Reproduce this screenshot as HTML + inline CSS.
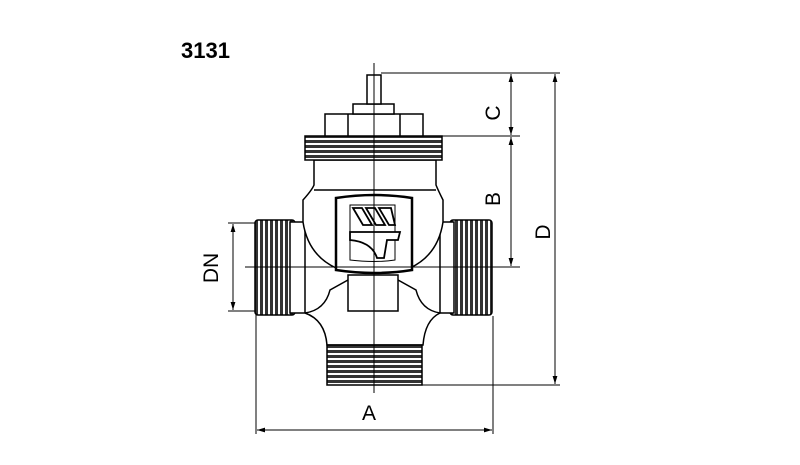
<!DOCTYPE html>
<html><head><meta charset="utf-8"><style>
html,body{margin:0;padding:0;background:#fff;width:800px;height:465px;overflow:hidden}
</style></head><body>
<svg width="800" height="465" viewBox="0 0 800 465" xmlns="http://www.w3.org/2000/svg" font-family="Liberation Sans, sans-serif">
<defs>
<marker id="ar" viewBox="0 0 10 10" refX="10" refY="5" markerWidth="8" markerHeight="8" orient="auto-start-reverse" markerUnits="userSpaceOnUse"><path d="M0,2 L10,5 L0,8 z" fill="#000"/></marker>
<pattern id="thv" width="4" height="5" patternUnits="userSpaceOnUse"><rect width="4" height="5" fill="#fff"/><rect x="0" y="0" width="4" height="3" fill="#333"/></pattern>
<pattern id="thh" width="5" height="4" patternUnits="userSpaceOnUse"><rect width="5" height="4" fill="#fff"/><rect x="0" y="0" width="3" height="4" fill="#333"/></pattern>
</defs>
<text x="181" y="58" font-size="22" font-weight="bold">3131</text>
<g stroke="#000" stroke-width="1.5" fill="#fff">
<rect x="255" y="220" width="40" height="95" rx="3" fill="url(#thh)"/>
<rect x="450" y="220" width="42" height="95" rx="3" fill="url(#thh)"/>
<rect x="290" y="222" width="15" height="91"/>
<rect x="440" y="222" width="14" height="91"/>
<path d="M305,313 Q325,310 330,290 L348,280 L398,280 L416,290 Q421,310 440,313 Q425,320 423,345 L327,345 Q325,320 305,313 Z"/>
<rect x="348" y="275" width="50" height="36"/>
<rect x="327" y="345" width="95" height="40" fill="url(#thv)"/>
<path d="M303,222 L303,200 Q312,190 314,185 L314,160 L436,160 L436,185 Q438,190 443,200 L443,222 Q438,255 410,268 L336,268 Q308,255 303,222 Z"/>
<line x1="314" y1="190" x2="436" y2="190"/>
<rect x="305" y="136" width="137" height="24" fill="url(#thv)"/>
<rect x="325" y="114" width="98" height="22"/>
<line x1="348" y1="114" x2="348" y2="136"/><line x1="400" y1="114" x2="400" y2="136"/>
<rect x="353" y="104" width="41" height="10"/>
<rect x="367" y="75" width="14" height="29"/>
<path d="M336,198 Q375,192 412,198 L412,270 Q375,276 336,270 Z" stroke-width="2.5"/>
<path d="M350,205 L395,205 L395,260 Q375,263 350,260 Z" stroke-width="1"/>
<path d="M353,208 L362,208 L372,225 L363,225 Z M366,208 L375,208 L385,225 L376,225 Z M379,208 L391,208 L395,225 L389,225 Z" fill="#fff" stroke-width="1.8"/>
<path d="M350,232 L400,232 L398,240 L387,240 L384,258 L377,258 Q372,242 350,240 Z" stroke-width="1.8"/>
</g>
<g stroke="#000" stroke-width="1" fill="none">
<line x1="374" y1="63" x2="374" y2="393"/>
<line x1="245" y1="267" x2="520" y2="267"/>
<line x1="381" y1="73" x2="560" y2="73"/>
<line x1="442" y1="136" x2="520" y2="136"/>
<line x1="422" y1="385" x2="560" y2="385"/>
<line x1="228" y1="223" x2="255" y2="223"/>
<line x1="228" y1="311" x2="255" y2="311"/>
<line x1="256" y1="313" x2="256" y2="434"/>
<line x1="493" y1="316" x2="493" y2="434"/>
<line x1="511" y1="74" x2="511" y2="135" marker-start="url(#ar)" marker-end="url(#ar)"/>
<line x1="511" y1="137" x2="511" y2="266" marker-start="url(#ar)" marker-end="url(#ar)"/>
<line x1="555" y1="74" x2="555" y2="384" marker-start="url(#ar)" marker-end="url(#ar)"/>
<line x1="233" y1="224" x2="233" y2="310" marker-start="url(#ar)" marker-end="url(#ar)"/>
<line x1="257" y1="430" x2="492" y2="430" marker-start="url(#ar)" marker-end="url(#ar)"/>
</g>
<g font-size="21" fill="#000">
<text transform="translate(500,113) rotate(-90)" text-anchor="middle">C</text>
<text transform="translate(500,199) rotate(-90)" text-anchor="middle">B</text>
<text transform="translate(550,232) rotate(-90)" text-anchor="middle">D</text>
<text transform="translate(218,268) rotate(-90)" text-anchor="middle">DN</text>
<text x="369" y="420" text-anchor="middle">A</text>
</g>
</svg>
</body></html>
